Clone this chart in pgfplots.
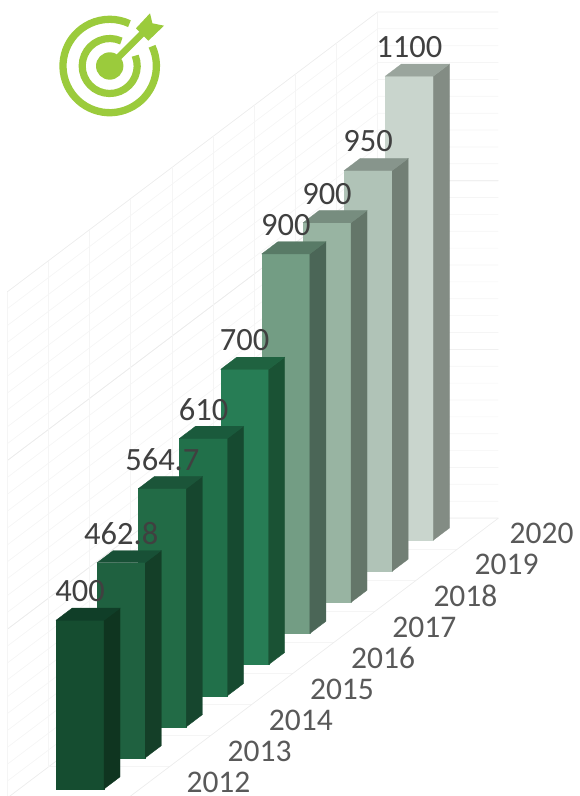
\documentclass[border=0pt]{standalone}
\usepackage{fontspec}
\setmainfont{Carlito}
\usepackage{pgfplots}
\pgfplotsset{compat=1.18}
\definecolor{gridA}{HTML}{ECECEC}
\definecolor{gridB}{HTML}{F5F5F5}
\definecolor{lab}{HTML}{404040}
\definecolor{yr}{HTML}{595959}
\definecolor{ic}{HTML}{9BCB3C}
% front, side, top colours per bar
\definecolor{fa}{HTML}{154D30}\definecolor{sa}{HTML}{0F3520}\definecolor{ta}{HTML}{103E28}
\definecolor{fb}{HTML}{1F6140}\definecolor{sb}{HTML}{143F28}\definecolor{tb}{HTML}{185036}
\definecolor{fc}{HTML}{226B46}\definecolor{sc}{HTML}{16462E}\definecolor{tc}{HTML}{1B5539}
\definecolor{fd}{HTML}{21704A}\definecolor{sd}{HTML}{164A30}\definecolor{td}{HTML}{1A5A3C}
\definecolor{fe}{HTML}{277D55}\definecolor{se}{HTML}{1A5234}\definecolor{te}{HTML}{1F6240}
\definecolor{ff}{HTML}{739D84}\definecolor{sf}{HTML}{4B6657}\definecolor{tf}{HTML}{587A66}
\definecolor{fg}{HTML}{98B4A2}\definecolor{sg}{HTML}{647669}\definecolor{tg}{HTML}{778D7F}
\definecolor{fh}{HTML}{B0C3B7}\definecolor{sh}{HTML}{727F75}\definecolor{th}{HTML}{87958C}
\definecolor{fi}{HTML}{C9D5CD}\definecolor{si}{HTML}{838C84}\definecolor{ti}{HTML}{9AA59D}
% #1 front row position, #2 back row position, #3 value, #4 colour suffix
\newcommand{\tbar}[4]{%
  \addplot3[draw=f#4,fill=f#4,line width=.3pt,forget plot] coordinates {(#1,36.8,0) (#1,84.8,0) (#1,84.8,#3) (#1,36.8,#3)} -- cycle;
  \addplot3[draw=s#4,fill=s#4,line width=.3pt,forget plot] coordinates {(#1,84.8,0) (#2,84.8,0) (#2,84.8,#3) (#1,84.8,#3)} -- cycle;
  \addplot3[draw=t#4,fill=t#4,line width=.3pt,forget plot] coordinates {(#1,36.8,#3) (#1,84.8,#3) (#2,84.8,#3) (#2,36.8,#3)} -- cycle;
}
\newcommand{\vlab}[2]{\node[text=lab,font=\fontsize{32.5}{32.5}\selectfont,anchor=center,yshift=29pt,inner sep=0pt] at (axis cs:#1,60.8,#2) {#2};}
\newcommand{\ylab}[3]{\node[text=yr,font=\fontsize{31.5}{31.5}\selectfont,anchor=center,inner sep=0pt] at (axis cs:#1,#2,0) {#3};}
\begin{document}
\begin{tikzpicture}[x=1pt,y=1pt]
\path[use as bounding box] (0,0) rectangle (579,796);
\begin{axis}[
  at={(7.3pt,-2pt)},anchor=origin,
  x={(41.16pt,31.1pt)},y={(1pt,0pt)},z={(0pt,0.4218pt)},
  xmin=0,xmax=9,ymin=0,ymax=120.7,zmin=0,zmax=1200,
  hide axis,clip=false,no markers]
% walls: value gridlines
\pgfplotsinvokeforeach{40,80,120,160,200,240,280,320,360,400,440,480,520,560,600,640,680,720,760,800,840,880,920,960,1000,1040,1080,1120,1160}{
  \addplot3[gridB,line width=.7pt,forget plot] coordinates {(0,0,#1) (9,0,#1) (9,120.7,#1)};
}
\pgfplotsinvokeforeach{0,400,800,1200}{
  \addplot3[gridA,line width=.7pt,forget plot] coordinates {(0,0,#1) (9,0,#1) (9,120.7,#1)};
}
% category gridlines on wall and floor
\pgfplotsinvokeforeach{0,1,2,3,4,5,6,7,8,9}{
  \addplot3[gridB,line width=.8pt,forget plot] coordinates {(#1,0,1200) (#1,0,0) (#1,120.7,0)};
}
\addplot3[gridA,line width=.7pt,forget plot] coordinates {(0,120.7,0) (9,120.7,0)};
% bars, back to front
\tbar{8.29}{8.68}{1100}{i}
\tbar{7.29}{7.68}{950}{h}
\tbar{6.29}{6.68}{900}{g}
\tbar{5.29}{5.68}{900}{f}
\tbar{4.29}{4.68}{700}{e}
\tbar{3.29}{3.68}{610}{d}
\tbar{2.29}{2.68}{564.7}{c}
\tbar{1.29}{1.68}{462.8}{b}
\tbar{0.29}{0.68}{400}{a}
% value labels
\vlab{0.29}{400}
\vlab{1.29}{462.8}
\vlab{2.29}{564.7}
\vlab{3.29}{610}
\vlab{4.29}{700}
\vlab{5.29}{900}
\vlab{6.29}{900}
\vlab{7.29}{950}
\vlab{8.29}{1100}
% category labels
\ylab{0.5}{190.6}{2012}
\ylab{1.5}{190.6}{2013}
\ylab{2.5}{190.6}{2014}
\ylab{3.5}{190.6}{2015}
\ylab{4.5}{190.6}{2016}
\ylab{5.5}{190.6}{2017}
\ylab{6.5}{190.6}{2018}
\ylab{7.5}{190.6}{2019}
\ylab{8.5}{184.4}{2020}
\end{axis}
% target icon (decoration), pixel position
\begin{scope}[shift={(109.7,730)}]
  \draw[ic,line width=7.3pt] (25:46.7) arc[start angle=25,end angle=-295,radius=46.7];
  \draw[ic,line width=7.2pt] (22:27.5) arc[start angle=22,end angle=-295,radius=27.5];
  \fill[ic] (0,0) circle (13.7);
  \draw[white,line width=11pt] (0,0) ++(12,12) -- (33,33);
  \draw[ic,line width=6.5pt] (0,0) -- (33,33);
  \fill[ic] (26.3,37.7) -- (40.3,52.7) -- (42.7,42.7) -- (54.3,40.3) -- (38.7,25.3) -- cycle;
\end{scope}
\end{tikzpicture}
\end{document}
